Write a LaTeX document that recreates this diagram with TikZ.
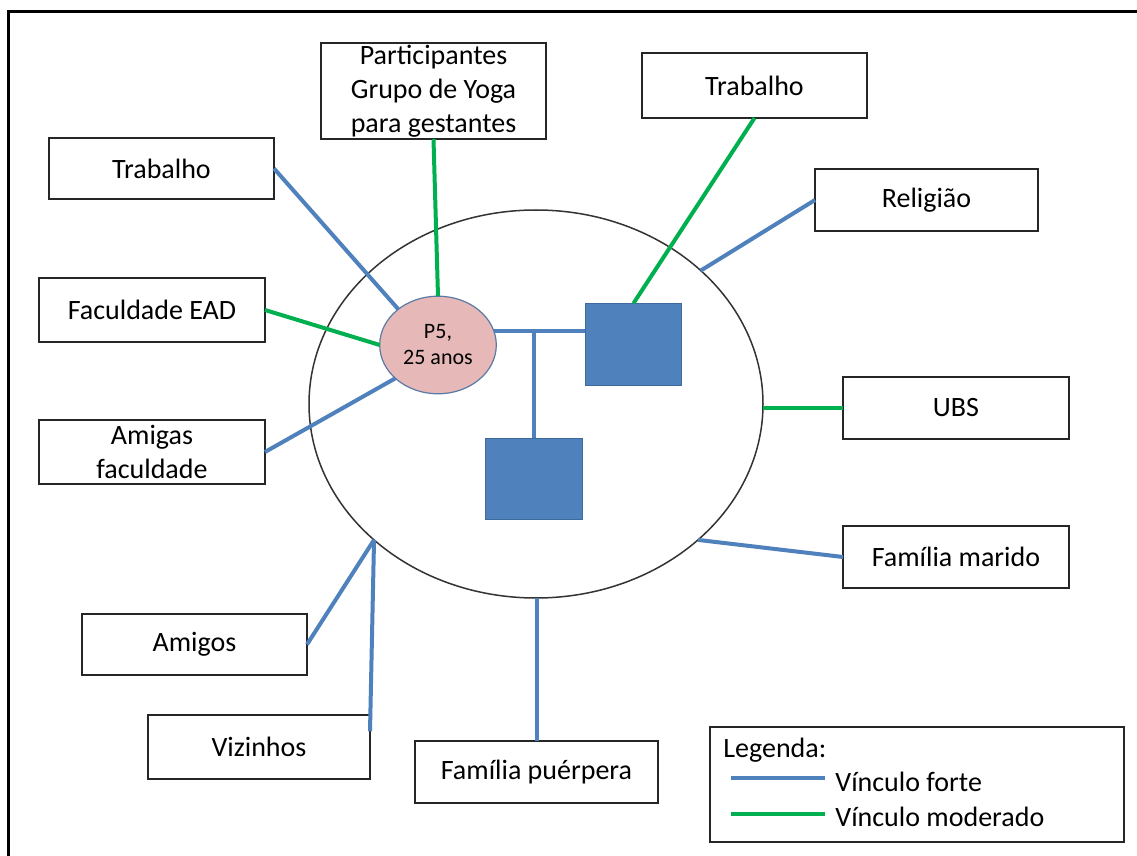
\documentclass[tikz,border=0pt]{standalone}
\usepackage{fontspec}
\setmainfont{Carlito}
\usetikzlibrary{shapes.geometric}
\definecolor{strongtie}{HTML}{4F81BD}
\definecolor{modtie}{HTML}{00B050}
\definecolor{egofill}{HTML}{E6B9B8}
\definecolor{egoline}{HTML}{5A7AA6}
\definecolor{kidline}{HTML}{3E6A9E}
\definecolor{rim}{HTML}{262626}

\begin{document}
\begin{tikzpicture}[x=0.5pt,y=-0.5pt,
  box/.style={draw=rim, line width=1.2pt, fill=white, inner sep=0pt, outer sep=0pt,
    align=center, font=\fontsize{14}{17}\selectfont},
  forte/.style={strongtie, line width=2pt},
  moderado/.style={modtie, line width=2pt},
  kid/.style={draw=kidline, line width=0.6pt, fill=strongtie, inner sep=0pt, outer sep=0pt},
]
% canvas and outer frame (the frame runs on past the right and bottom edges)
\useasboundingbox (0,0) rectangle (1137,856);
\fill[white] (0,0) rectangle (1137,856);
\begin{scope}
  \clip (0,0) rectangle (1137,856);
  \draw[black, line width=1.5pt] (8,12) rectangle (1180,900);
\end{scope}

% household circle
\node[ellipse, draw=black!80, line width=0.75pt, minimum width=227pt, minimum height=194pt,
  inner sep=0pt, outer sep=0pt] (net) at (536,404) {};

% the woman and her household
\node[ellipse, draw=egoline, line width=0.6pt, fill=egofill, minimum width=58.3pt,
  minimum height=48.8pt, inner sep=0pt, outer sep=0pt, align=center,
  font=\fontsize{11}{13}\selectfont] (p5) at (438,345) {P5,\\25 anos};
\node[kid, minimum width=48.3pt, minimum height=41.2pt] (sq1) at (633.5,344.5) {};
\node[kid, minimum width=48.3pt, minimum height=40.8pt] (sq2) at (534,479) {};

% surrounding relations
\node[box, minimum width=112.5pt, minimum height=48pt] (yoga) at (433.5,91)
  {Participantes\\Grupo de Yoga\\para gestantes};
\node[box, minimum width=112.5pt, minimum height=30.5pt] (trabA) at (161.5,168.5) {Trabalho};
\node[box, minimum width=112.5pt, minimum height=32.5pt] (trabB) at (754.5,85.5) {Trabalho};
\node[box, minimum width=111.5pt, minimum height=31pt] (relig) at (926.5,200) {Religião};
\node[box, minimum width=113pt, minimum height=32pt] (ead) at (152,310) {Faculdade EAD};
\node[box, minimum width=113pt, minimum height=32pt] (amigas) at (152,452) {Amigas\\faculdade};
\node[box, minimum width=113pt, minimum height=31pt] (ubs) at (956,408) {UBS};
\node[box, minimum width=113pt, minimum height=31pt] (marido) at (956,557) {Família marido};
\node[box, minimum width=112.5pt, minimum height=30.5pt] (amigos) at (194.5,644.5) {Amigos};
\node[box, minimum width=111pt, minimum height=32pt] (viz) at (259,747) {Vizinhos};
\node[box, minimum width=121.5pt, minimum height=31pt] (puer) at (536.5,772) {Família puérpera};

% ties
\draw[forte] (trabA.east) -- (p5.138);
\draw[moderado] (yoga.south) -- (p5.north);
\draw[moderado] (ead.east) -- (p5.west);
\draw[forte] (amigas.east) -- (p5.218);
\draw[forte] (p5.14) -- (p5.14 -| sq1.west);
\draw[forte] (sq2.north) -- (sq2.north |- p5.14);
\draw[moderado] (trabB.south) -- (sq1.north);
\draw[forte] (relig.west) -- (net.39.8);
\draw[moderado] (ubs.west) -- (ubs.west -| net.east);
\draw[forte] (marido.west) -- (net.-40);
\draw[forte] (amigos.east) -- (net.220.8);
\draw[forte] (net.220.8) -- (viz.8);
\draw[forte] (puer.north) -- (puer.north |- net.south);

% legend
\node[box, minimum width=207pt, minimum height=57.5pt] (legend) at (917,784.5) {};
\node[anchor=base west, inner sep=0pt, font=\fontsize{14}{17}\selectfont] (legtitle) at (723,757) {Legenda:};
\coordinate (fA) at (731,778);
\coordinate (fB) at (825,778);
\coordinate (mA) at (731,814);
\coordinate (mB) at (825,814);
\draw[forte] (fA) -- (fB);
\draw[moderado] (mA) -- (mB);
\node[anchor=base west, inner sep=0pt, font=\fontsize{14}{17}\selectfont] (legforte) at (835,791) {Vínculo forte};
\node[anchor=base west, inner sep=0pt, font=\fontsize{14}{17}\selectfont] (legmod) at (835,826) {Vínculo moderado};
\end{tikzpicture}
\end{document}
